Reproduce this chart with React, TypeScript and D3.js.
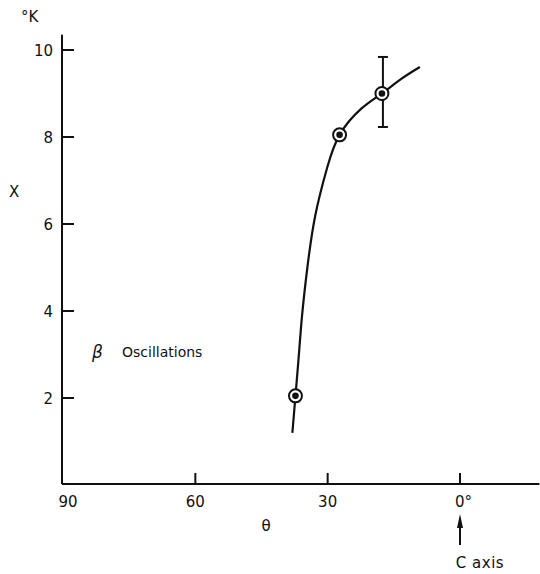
import React from "react";
import * as d3 from "d3";

// Measured points: angle θ (degrees from the C axis) and χ (°K)
const pointTheta = [37.3, 27.3, 17.7];
const pointChi = [2.05, 8.05, 9.0];
// Error bar on the last point
const errLow = [null, null, 8.23];
const errHigh = [null, null, 9.84];

// Smooth fitted curve drawn through the measurements
const curveTheta = [38.0, 37.3, 36.6, 35.8, 34.6, 32.8, 30.1, 27.3, 22.5, 17.7, 13.4, 9.1];
const curveChi = [1.2, 2.05, 2.9, 3.9, 5.0, 6.2, 7.3, 8.05, 8.64, 9.0, 9.33, 9.61];

const xTicks = [90, 60, 30, 0];
const xTickLabels = ["90", "60", "30", "0°"];
const yTicks = [2, 4, 6, 8, 10];
const yTickLabels = ["2", "4", "6", "8", "10"];

const W = 540;
const H = 574;
const FONT = "'DejaVu Sans', Verdana, sans-serif";

export default function App() {
  const x = d3.scaleLinear().domain([90, 0]).range([63, 460]);
  const y = d3.scaleLinear().domain([0, 10]).range([485, 50]);

  const axisX0 = x(90) - 1;
  const axisY0 = y(0) - 1;
  const xEnd = x(-18);
  const yTop = y(10.35);

  const curveData = curveTheta.map((t, i) => [t, curveChi[i]] as [number, number]);
  const line = d3
    .line<[number, number]>()
    .x((d) => x(d[0]))
    .y((d) => y(d[1]))
    .curve(d3.curveNatural);

  const ink = "#111";

  return (
    <svg
      width={W}
      height={H}
      viewBox={`0 0 ${W} ${H}`}
      style={{ position: "absolute", left: 0, top: 0, background: "#fff" }}
      fontFamily={FONT}
    >
      <rect width={W} height={H} fill="#fff" />

      {/* axes */}
      <line x1={axisX0} y1={yTop} x2={axisX0} y2={axisY0} stroke={ink} strokeWidth={2} />
      <line x1={axisX0} y1={axisY0} x2={xEnd} y2={axisY0} stroke={ink} strokeWidth={2} />

      {/* y ticks point into the plot */}
      {yTicks.map((v, i) => (
        <g key={"y" + v}>
          <line x1={axisX0} x2={axisX0 + 12} y1={y(v)} y2={y(v)} stroke={ink} strokeWidth={2} />
          <text x={53} y={y(v) + 6} textAnchor="end" fontSize={15} fill={ink}>
            {yTickLabels[i]}
          </text>
        </g>
      ))}

      {/* x ticks point up */}
      {xTicks.map((v, i) =>
        v === 90 ? (
          <text key={"x" + v} x={x(v) + 5} y={507} textAnchor="middle" fontSize={15} fill={ink}>
            {xTickLabels[i]}
          </text>
        ) : (
          <g key={"x" + v}>
            <line x1={x(v)} x2={x(v)} y1={axisY0} y2={axisY0 - 11} stroke={ink} strokeWidth={2} />
            {v === 0 ? (
              <text x={x(v) - 5} y={507} textAnchor="start" fontSize={15} fill={ink}>
                {xTickLabels[i]}
              </text>
            ) : (
              <text x={x(v)} y={507} textAnchor="middle" fontSize={15} fill={ink}>
                {xTickLabels[i]}
              </text>
            )}
          </g>
        )
      )}

      {/* axis titles */}
      <text x={21} y={22} fontSize={15} fill={ink}>
        °K
      </text>
      <text x={9} y={197} fontSize={15} fill={ink}>
        X
      </text>
      <text x={266} y={531} textAnchor="middle" fontSize={15} fill={ink}>
        θ
      </text>

      {/* C axis marker */}
      <line x1={x(0)} x2={x(0)} y1={526} y2={545} stroke={ink} strokeWidth={2} />
      <path d={`M${x(0)},514 L${x(0) - 3},528 L${x(0) + 3},528 Z`} fill={ink} />
      <text x={480} y={568} textAnchor="middle" fontSize={15} fill={ink} letterSpacing={0.5}>
        C axis
      </text>

      {/* annotation */}
      <text x={92} y={358} fontSize={17} fontStyle="italic" fill={ink}>
        β
      </text>
      <text x={122} y={357} fontSize={14} fill={ink}>
        Oscillations
      </text>

      {/* fitted curve */}
      <path d={line(curveData) || ""} fill="none" stroke={ink} strokeWidth={2.2} />

      {/* error bars */}
      {pointTheta.map((t, i) =>
        errLow[i] != null && errHigh[i] != null ? (
          <g key={"e" + i}>
            <line x1={x(t) + 1} x2={x(t) + 1} y1={y(errLow[i] as number)} y2={y(errHigh[i] as number)} stroke={ink} strokeWidth={2} />
            <line x1={x(t) - 4} x2={x(t) + 6} y1={y(errLow[i] as number)} y2={y(errLow[i] as number)} stroke={ink} strokeWidth={2} />
            <line x1={x(t) - 4} x2={x(t) + 6} y1={y(errHigh[i] as number)} y2={y(errHigh[i] as number)} stroke={ink} strokeWidth={2} />
          </g>
        ) : null
      )}

      {/* data points: ringed dots */}
      {pointTheta.map((t, i) => (
        <g key={"p" + i}>
          <circle cx={x(t)} cy={y(pointChi[i])} r={6.5} fill="#fff" stroke={ink} strokeWidth={2} />
          <circle cx={x(t)} cy={y(pointChi[i])} r={3.3} fill={ink} />
        </g>
      ))}
    </svg>
  );
}
